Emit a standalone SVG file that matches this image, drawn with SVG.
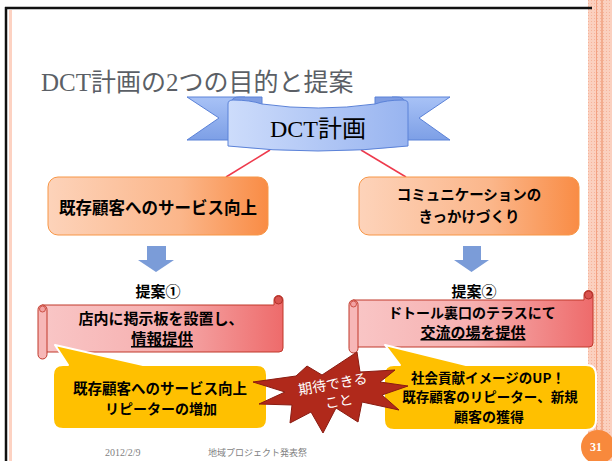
<svg xmlns="http://www.w3.org/2000/svg" width="612" height="461" viewBox="0 0 612 461">
<defs>
<linearGradient id="gOrange" x1="0" y1="0" x2="1" y2="0"><stop offset="0" stop-color="#fdd3ba"/><stop offset="0.6" stop-color="#fbb68a"/><stop offset="1" stop-color="#f98c45"/></linearGradient>
<linearGradient id="gScroll" x1="0" y1="0" x2="1" y2="0"><stop offset="0" stop-color="#f9c6c6"/><stop offset="0.5" stop-color="#f6b0b0"/><stop offset="1" stop-color="#ee6b6b"/></linearGradient>
<linearGradient id="gBody" x1="0" y1="0" x2="1" y2="0"><stop offset="0" stop-color="#cddcfb"/><stop offset="1" stop-color="#98b4f0"/></linearGradient>
<linearGradient id="gTail" x1="0" y1="0" x2="0" y2="1"><stop offset="0" stop-color="#a8c2f6"/><stop offset="1" stop-color="#7d9fe6"/></linearGradient>
<pattern id="dots" width="3" height="3" patternUnits="userSpaceOnUse"><rect width="3" height="3" fill="#fbd0bf"/><rect width="1" height="1" fill="#f6b39a"/></pattern>
</defs>
<style>
.jp{font-family:"Noto Sans CJK JP","Noto Sans",sans-serif;font-weight:bold;fill:#000;text-anchor:middle}
.sc{fill:url(#gScroll);stroke:#c0392b;stroke-width:1}
.ob{fill:url(#gOrange);stroke:#f79646;stroke-width:1}
.call{fill:#ffc000;stroke:#fff;stroke-width:2;stroke-linejoin:round}
.arr{fill:#7b9cd8}
.rib{stroke:#5b82d8;stroke-width:1}
.ft{font-family:"Liberation Serif","Noto Sans CJK JP",serif;fill:#7f7f7f}
</style>
<rect width="612" height="461" fill="#fff"/>
<g id="frame">
<rect x="588" y="0" width="24" height="461" fill="url(#dots)"/>
<line x1="596.5" y1="0" x2="596.5" y2="461" stroke="#f3a283" stroke-width="1"/>
<line x1="602" y1="0" x2="602" y2="461" stroke="#e9865c" stroke-width="1"/>
<line x1="5" y1="8" x2="592" y2="8" stroke="#111" stroke-width="2.5"/>
<line x1="6" y1="7" x2="6" y2="461" stroke="#111" stroke-width="2.5"/>
<line x1="10.5" y1="10" x2="10.5" y2="461" stroke="#fdd2c2" stroke-width="3"/>
</g>
<text x="41" y="91" font-family="Liberation Serif,'Noto Sans CJK JP',serif" font-size="25" fill="#5b5f66">DCT計画の2つの目的と提案</text>
<g id="connectors">
<line x1="270" y1="150" x2="226" y2="177" stroke="#ee3a4c" stroke-width="1.5"/>
<line x1="361" y1="150" x2="406" y2="177" stroke="#ee3a4c" stroke-width="1.5"/>
<path class="arr" d="M147,246 H166 V260 H174 L156,272 L138,260 H147 Z"/>
<path class="arr" d="M463,246 H481 V260 H489 L471.5,272 L454,260 H463 Z"/>
</g>
<g id="dct">
<path class="rib" fill="url(#gTail)" d="M187,97 H245 V140 H187 L219,118 Z"/>
<path class="rib" fill="url(#gTail)" d="M450,97 H392 V140 H450 L419,118 Z"/>
<path class="rib" fill="#7f9de2" d="M232,107 V101 Q232,97 240,97 H262 V108 Z"/>
<path class="rib" fill="#7f9de2" d="M404,107 V101 Q404,97 396,97 H375 V108 Z"/>
<path class="rib" fill="url(#gBody)" d="M228,104 Q228,100 233,100 Q250,100 262,104 Q318,112 375,104 Q386,100 403,100 Q408,100 408,104 V146 Q318,156 228,146 Z"/>
<text x="318" y="137" font-family="Liberation Serif,'Noto Sans CJK JP',serif" font-size="24" fill="#000" text-anchor="middle">DCT計画</text>
</g>
<g id="goal1">
<rect class="ob" x="48" y="177" width="220" height="58" rx="10"/>
<text class="jp" x="158" y="214" font-size="16.5">既存顧客へのサービス向上</text>
</g>
<g id="goal2">
<rect class="ob" x="359" y="177" width="220" height="58" rx="10"/>
<text class="jp" x="469" y="200" font-size="14.5">コミュニケーションの</text>
<text class="jp" x="469" y="222" font-size="14.5">きっかけづくり</text>
</g>
<g id="label1"><text class="jp" x="158" y="297" font-size="15">提案①</text></g>
<g id="label2"><text class="jp" x="474" y="297" font-size="15">提案②</text></g>
<g id="proposal1">
<path class="sc" d="M42,305 H274 V300 A4.5,4.5 0 0 1 283,300 V348 Q283,352 279,352 H42 Z"/>
<circle cx="278.5" cy="300" r="4" fill="#d9534f" stroke="#b03028"/>
<rect class="sc" x="38" y="305" width="9" height="54" rx="4.5" style="fill:#f7b7b7"/>
<circle cx="42.5" cy="309" r="3" fill="#f3a2a2" stroke="#c0392b" stroke-width="0.8"/>
<text class="jp" x="161" y="324" font-size="15">店内に掲示板を設置し、</text>
<text class="jp" x="162" y="345" font-size="15.5" text-decoration="underline">情報提供</text>
</g>
<g id="proposal2">
<path class="sc" d="M353,300 H584 V295 A4.5,4.5 0 0 1 593,295 V343 Q593,347 589,347 H353 Z"/>
<circle cx="588.5" cy="295" r="4" fill="#d9534f" stroke="#b03028"/>
<rect class="sc" x="349" y="300" width="9" height="53" rx="4.5" style="fill:#f7b7b7"/>
<circle cx="353.5" cy="304" r="3" fill="#f3a2a2" stroke="#c0392b" stroke-width="0.8"/>
<text class="jp" x="472" y="318" font-size="14">ドトール裏口のテラスにて</text>
<text class="jp" x="473" y="338" font-size="15" text-decoration="underline">交流の場を提供</text>
</g>
<g id="effect1">
<path class="call" d="M63,365 H68 L55,345 L143,365 H257 Q267,365 267,375 V419 Q267,429 257,429 H63 Q53,429 53,419 V375 Q53,365 63,365 Z"/>
<text class="jp" x="160" y="394" font-size="14.5">既存顧客へのサービス向上</text>
<text class="jp" x="161" y="414" font-size="14">リピーターの増加</text>
</g>
<g id="effect2">
<path class="call" d="M394,365 H400 L385,345 L466,365 H586 Q596,365 596,375 V420 Q596,430 586,430 H394 Q384,430 384,420 V375 Q384,365 394,365 Z"/>
<text class="jp" x="488" y="382.5" font-size="13.5">社会貢献イメージのUP！</text>
<text class="jp" x="490" y="402" font-size="13.5">既存顧客のリピーター、新規</text>
<text class="jp" x="489" y="421.5" font-size="14">顧客の獲得</text>
</g>
<g id="expect">
<path d="M253,382 L296,376 L307,366 L322,375 L357,352 L360,372 L395,370 L380,382 L408,386 L382,395 L399,410 L362,402 L358,422 L336,408 L323,433 L311,412 L290,423 L292,405 L259,404 L285,392 Z" fill="#b0291b" stroke="#8a1c12" stroke-width="1"/>
<g transform="rotate(-10 333 385)" font-family="'Noto Sans CJK JP',sans-serif" font-size="14" fill="#fff" text-anchor="middle">
<text x="333" y="389">期待できる</text>
<text x="336" y="407">こと</text>
</g>
</g>
<g id="footer">
<text class="ft" x="105" y="456" font-size="10">2012/2/9</text>
<text class="ft" x="208" y="456" font-size="9">地域プロジェクト発表祭</text>
<circle cx="598" cy="447" r="17" fill="#f8893c"/>
<text x="596" y="451" font-family="Liberation Serif,serif" font-weight="bold" font-size="12" fill="#fff" text-anchor="middle">31</text>
</g>
</svg>
